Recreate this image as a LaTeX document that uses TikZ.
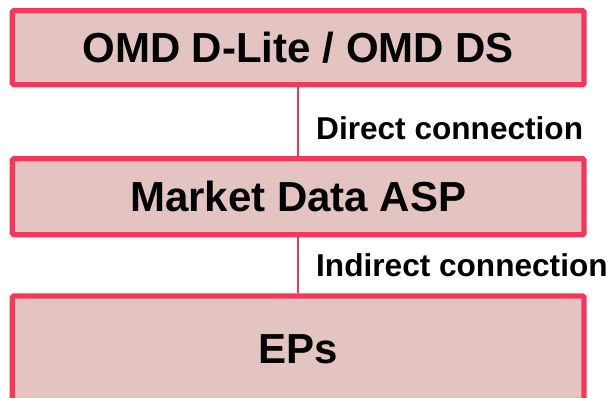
\documentclass[tikz,border=0pt]{standalone}
\usepackage{fontspec}
\setmainfont{Liberation Sans}
\definecolor{boxfill}{RGB}{228,196,192}
\definecolor{boxline}{RGB}{245,56,90}
\begin{document}
\begin{tikzpicture}[x=1pt,y=-1pt,
  layer/.style={draw=boxline, fill=boxfill, line width=5.3pt, rounded corners=1.5pt,
    minimum width=571.7pt, inner sep=0pt, text height=30.1pt, text depth=0pt,
    font=\fontsize{42}{48}\selectfont\bfseries},
  conn/.style={draw=boxline, line width=2pt},
  lbl/.style={anchor=base west, inner sep=0pt, font=\fontsize{31.6}{36}\selectfont\bfseries}]
\useasboundingbox (0,0) rectangle (612,398);
\clip (0,0) rectangle (612,398);
\node[layer, minimum height=74pt] (top) at (298.2,47.7) {OMD D-Lite / OMD DS};
\node[layer, minimum height=76pt] (mid) at (298.2,196.7) {Market Data ASP};
\node[layer, minimum height=104.6pt] (ep) at (298.2,348.3) {EPs};
\draw[conn] (top.south) -- (mid.north);
\draw[conn] (mid.south) -- (ep.north);
\node[lbl] (direct) at (316,140) {Direct connection};
\node[lbl] (indirect) at (316,276.7) {Indirect connection};
\end{tikzpicture}
\end{document}
